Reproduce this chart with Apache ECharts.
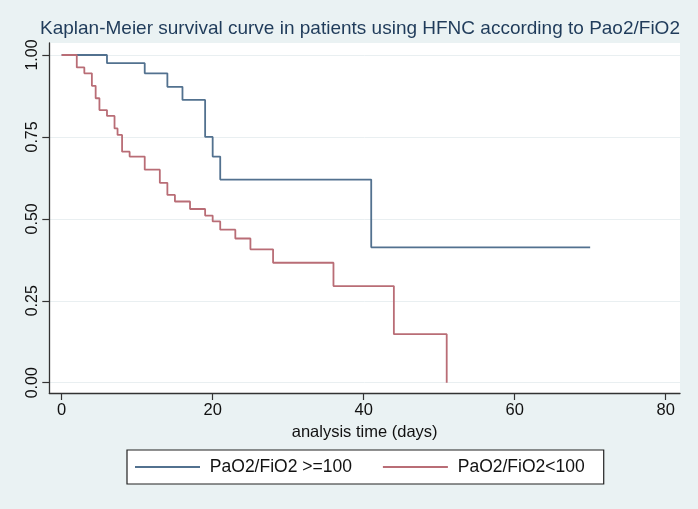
<!DOCTYPE html>
<html><head><meta charset="utf-8">
<script src="https://cdn.jsdelivr.net/npm/echarts@6/dist/echarts.min.js"></script>
<style>html,body{margin:0;padding:0;background:#eaf2f3;}#c{width:698px;height:509px;}</style>
</head><body><div id="c"></div>
<script>
const titleText = 'Kaplan-Meier survival curve in patients using HFNC according to Pao2/FiO2';
const xAxisTitle = 'analysis time (days)';
const seriesNames = ['PaO2/FiO2 >=100', 'PaO2/FiO2<100'];
const highDays = [0, 6, 11, 14, 16, 19, 20, 21, 41, 70];
const highSurv = [1, 0.975, 0.944, 0.903, 0.863, 0.75, 0.69, 0.62, 0.413, 0.413];
const lowDays = [0, 2, 3, 4, 4.5, 5, 6, 7, 7.4, 8, 9, 11, 13, 14, 15, 17, 19, 20, 21, 23, 25, 28, 36, 44, 51];
const lowSurv = [1, 0.962, 0.944, 0.906, 0.868, 0.832, 0.814, 0.776, 0.756, 0.705, 0.69, 0.65, 0.61, 0.573, 0.553, 0.53, 0.51, 0.492, 0.467, 0.44, 0.407, 0.366, 0.295, 0.148, 0];
const xTicks = [0, 20, 40, 60, 80];
const yTicks = [0, 0.25, 0.5, 0.75, 1];

const colors = ['#52718f', '#b96d76'];
const font = 'Liberation Sans, Arial, Helvetica, sans-serif';
const chart = echarts.init(document.getElementById('c'), null, {renderer: 'canvas'});
chart.setOption({
  animation: false,
  backgroundColor: '#eaf2f3',
  title: {
    text: titleText, left: 40, top: 19, padding: 0,
    textStyle: {fontFamily: font, fontSize: 19, fontWeight: 'normal', color: '#1f3b5a'}
  },
  grid: {
    left: 49.3, right: 18, top: 43, bottom: 116,
    show: true, backgroundColor: '#ffffff', borderWidth: 0
  },
  legend: {
    left: 127, top: 450,
    padding: [8, 19, 8, 8],
    itemGap: 31, itemWidth: 65, itemHeight: 2,
    icon: 'rect',
    backgroundColor: '#ffffff', borderColor: '#222', borderWidth: 1.2,
    formatter: n => ' ' + n,
    textStyle: {fontFamily: font, fontSize: 17.5, color: '#111'},
    data: seriesNames
  },
  xAxis: {
    type: 'value', min: -1.64, max: 81.9,
    name: xAxisTitle, nameLocation: 'middle', nameGap: 31,
    nameTextStyle: {fontFamily: font, fontSize: 16.5, color: '#111'},
    axisLine: {show: true, onZero: false, lineStyle: {color: '#333', width: 1.3}},
    axisTick: {show: true, customValues: xTicks, length: 7, lineStyle: {color: '#333', width: 1.2}},
    axisLabel: {customValues: xTicks, margin: 9, fontFamily: font, fontSize: 16.5, color: '#111', formatter: v => String(v)},
    splitLine: {show: false}
  },
  yAxis: {
    type: 'value', min: -0.0314, max: 1.0366,
    axisLine: {show: true, onZero: false, lineStyle: {color: '#333', width: 1.3}},
    axisTick: {show: true, customValues: yTicks, length: 7, lineStyle: {color: '#333', width: 1.2}},
    axisLabel: {customValues: yTicks, rotate: 90, margin: 9, fontFamily: font, fontSize: 16, color: '#111', formatter: v => v.toFixed(2)},
    splitLine: {show: true, lineStyle: {color: '#e9eff1', width: 1}}
  },
  series: [
    {
      name: seriesNames[0], type: 'line', step: 'end', showSymbol: false, symbol: 'none',
      data: highDays.map((d, i) => [d, highSurv[i]]),
      lineStyle: {color: colors[0], width: 1.8}, itemStyle: {color: colors[0]}
    },
    {
      name: seriesNames[1], type: 'line', step: 'end', showSymbol: false, symbol: 'none',
      data: lowDays.map((d, i) => [d, lowSurv[i]]),
      lineStyle: {color: colors[1], width: 1.8}, itemStyle: {color: colors[1]}
    }
  ]
});
</script>
</body></html>
